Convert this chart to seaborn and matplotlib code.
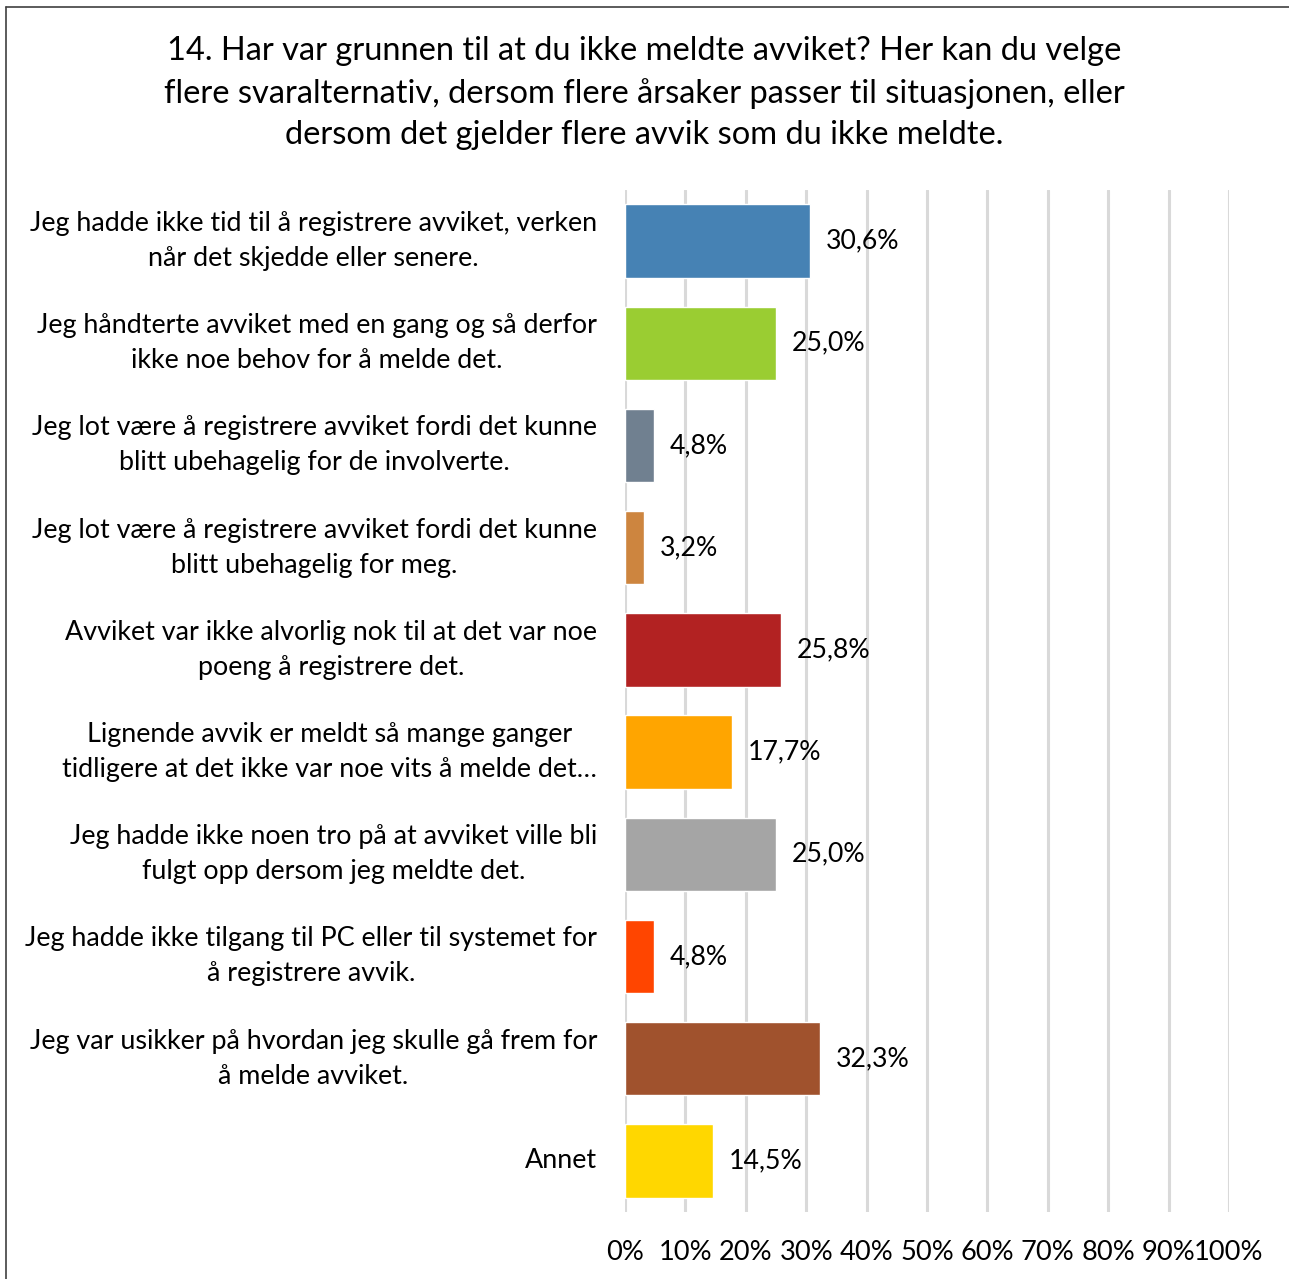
import matplotlib
matplotlib.use("Agg")
import matplotlib.pyplot as plt
import seaborn as sns
import pandas as pd
from matplotlib.lines import Line2D
from matplotlib.ticker import FuncFormatter

categories = [
    "Jeg hadde ikke tid til å registrere avviket, verken\nnår det skjedde eller senere.",
    "Jeg håndterte avviket med en gang og så derfor\nikke noe behov for å melde det.",
    "Jeg lot være å registrere avviket fordi det kunne\nblitt ubehagelig for de involverte.",
    "Jeg lot være å registrere avviket fordi det kunne\nblitt ubehagelig for meg.",
    "Avviket var ikke alvorlig nok til at det var noe\npoeng å registrere det.",
    "Lignende avvik er meldt så mange ganger\ntidligere at det ikke var noe vits å melde det…",
    "Jeg hadde ikke noen tro på at avviket ville bli\nfulgt opp dersom jeg meldte det.",
    "Jeg hadde ikke tilgang til PC eller til systemet for\nå registrere avvik.",
    "Jeg var usikker på hvordan jeg skulle gå frem for\nå melde avviket.",
    "Annet",
]
values = [30.6, 25.0, 4.8, 3.2, 25.8, 17.7, 25.0, 4.8, 32.3, 14.5]
colors = ["#4682B4", "#9ACD32", "#708090", "#CD853F", "#B22222",
          "#FFA500", "#A5A5A5", "#FF4500", "#A0522D", "#FFD700"]
title = ("14. Har var grunnen til at du ikke meldte avviket? Her kan du velge\n"
         "flere svaralternativ, dersom flere årsaker passer til situasjonen, eller\n"
         "dersom det gjelder flere avvik som du ikke meldte.")

sns.set_theme(style="white")
plt.rcParams['font.family'] = ['Lato', 'DejaVu Sans']

W, H = 1289, 1279
fig = plt.figure(figsize=(W / 100, H / 100), dpi=100)
ax = fig.add_axes([625 / W, 1 - 1212 / H, (1229 - 625) / W, (1212 - 190) / H])

df = pd.DataFrame({"cat": categories, "val": values})
sns.barplot(data=df, y="cat", x="val", hue="cat", palette=colors,
            orient="h", legend=False, width=0.72, ax=ax, saturation=1)

ax.set_xlim(0, 100)
ax.set_ylim(len(categories) - 0.5, -0.5)
ax.set_xticks(range(0, 101, 10))
ax.xaxis.set_major_formatter(FuncFormatter(lambda v, p: f"{int(v)}%"))
ax.grid(axis="x", color="#D9D9D9", linewidth=2.2)
ax.set_axisbelow(True)
for s in ax.spines.values():
    s.set_visible(False)
ax.set_xlabel("")
ax.set_ylabel("")
ax.tick_params(axis="x", labelsize=19.6, pad=20, length=0, colors="black")
ax.tick_params(axis="y", labelsize=19.4, length=0, colors="black",
               pad=(625 - 597) * 0.72)
for lab in ax.get_yticklabels():
    lab.set_horizontalalignment("right")
    lab.set_verticalalignment("center")
    lab.set_multialignment("center")
    lab.set_linespacing(1.5)

for i, v in enumerate(values):
    ax.text(v + 2.6, i, f"{v:.1f}".replace(".", ",") + "%", va="center",
            ha="left", fontsize=19.2, color="black")

fig.text(0.5, 1 - 93 / H, title, ha="center", va="center", fontsize=23.5,
         linespacing=1.45, color="black")

fig.add_artist(Line2D([6 / W, 6 / W], [0, 1 - 7 / H], transform=fig.transFigure,
                      color="#404040", linewidth=1.2))
fig.add_artist(Line2D([6 / W, 1], [1 - 7 / H, 1 - 7 / H], transform=fig.transFigure,
                      color="#404040", linewidth=1.2))

fig.savefig("out.png", dpi=100)
